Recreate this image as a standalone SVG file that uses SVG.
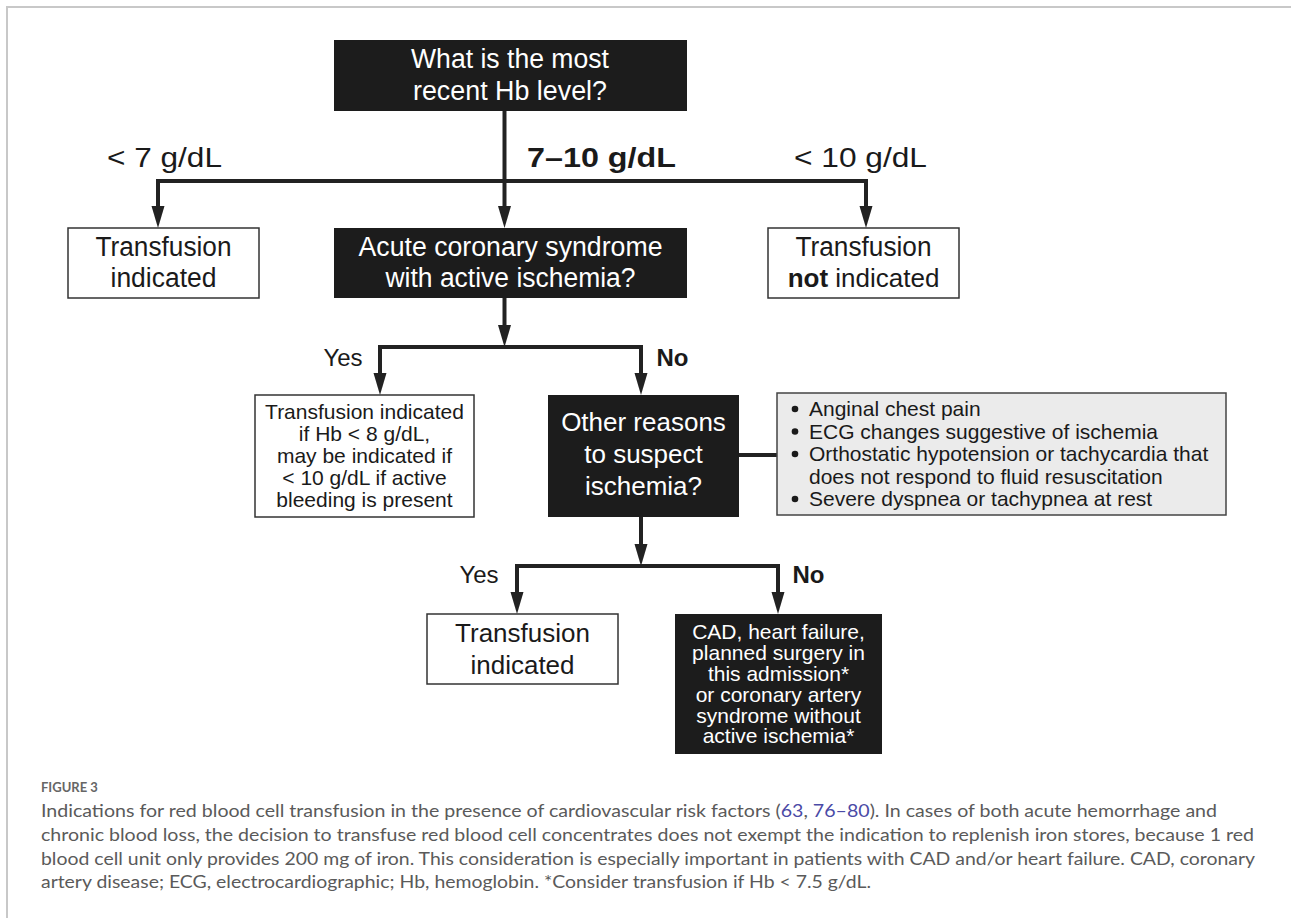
<svg xmlns="http://www.w3.org/2000/svg" width="1291" height="918" viewBox="0 0 1291 918">
<defs>
<marker id="ah" markerUnits="userSpaceOnUse" markerWidth="22" markerHeight="14" refX="0" refY="6.5" orient="auto" overflow="visible">
<path d="M0,0 L22,6.5 L0,13 z" fill="#222"/>
</marker>
<style>
.t{font-family:"Liberation Sans",Arial,Helvetica,sans-serif;fill:#1a1a1a;text-anchor:middle}
.w{fill:#fff}
.bb{fill:#1c1c1c}
.bw{fill:#fff;stroke:#333;stroke-width:1.5}
.bg{fill:#ebebeb;stroke:#444;stroke-width:1.5}
.c{stroke:#222;stroke-width:4;fill:none}
.s27{font-size:27px}
.s26{font-size:26px}
.s24{font-size:24px}
.s21{font-size:21px}
.b{font-weight:bold}
.cap{font-family:Lato,"Open Sans",sans-serif;font-size:16.5px;font-weight:400;fill:#5a5a5a}
.lnk{fill:#4a4aa6}
</style>
</defs>
<rect width="1291" height="918" fill="#fff"/>
<path d="M7 918 V7 H1291" fill="none" stroke="#c8c8c8" stroke-width="2"/>

<g id="connectors">
<path class="c" d="M504.5 111 V181"/>
<path class="c" d="M158 181 H866"/>
<path class="c" d="M158 179 V206" marker-end="url(#ah)"/>
<path class="c" d="M504.5 181 V206" marker-end="url(#ah)"/>
<path class="c" d="M866 179 V206" marker-end="url(#ah)"/>
<path class="c" d="M504.5 298 V325" marker-end="url(#ah)"/>
<path class="c" d="M380 347 H641"/>
<path class="c" d="M380 345 V373" marker-end="url(#ah)"/>
<path class="c" d="M641 345 V373" marker-end="url(#ah)"/>
<path class="c" d="M739 455 H777"/>
<path class="c" d="M641 517 V544" marker-end="url(#ah)"/>
<path class="c" d="M517 566 H778"/>
<path class="c" d="M517 564 V592" marker-end="url(#ah)"/>
<path class="c" d="M778 564 V592" marker-end="url(#ah)"/>
</g>

<g id="edge-labels">
<text class="t s27" x="164.5" y="167" textLength="115" lengthAdjust="spacingAndGlyphs">&lt; 7 g/dL</text>
<text class="t s27 b" x="601.5" y="167" textLength="149" lengthAdjust="spacingAndGlyphs">7–10 g/dL</text>
<text class="t s27" x="860.5" y="167" textLength="133" lengthAdjust="spacingAndGlyphs">&lt; 10 g/dL</text>
<text class="t s24" x="343" y="366">Yes</text>
<text class="t s24 b" x="672.5" y="366">No</text>
<text class="t s24" x="479" y="583">Yes</text>
<text class="t s24 b" x="808.5" y="583">No</text>
</g>

<g id="n-hb">
<rect class="bb" x="334" y="40" width="353" height="71"/>
<text class="t s27 w" x="510" y="67.5" textLength="198" lengthAdjust="spacingAndGlyphs">What is the most</text>
<text class="t s27 w" x="510" y="99.5" textLength="194" lengthAdjust="spacingAndGlyphs">recent Hb level?</text>
</g>

<g id="n-transfusion-1">
<rect class="bw" x="68" y="228" width="191" height="70"/>
<text class="t s27" x="163.5" y="256" textLength="136" lengthAdjust="spacingAndGlyphs">Transfusion</text>
<text class="t s27" x="163.5" y="287" textLength="106" lengthAdjust="spacingAndGlyphs">indicated</text>
</g>

<g id="n-acs">
<rect class="bb" x="334" y="228" width="353" height="70"/>
<text class="t s27 w" x="510.5" y="256" textLength="304" lengthAdjust="spacingAndGlyphs">Acute coronary syndrome</text>
<text class="t s27 w" x="510.5" y="287" textLength="250" lengthAdjust="spacingAndGlyphs">with active ischemia?</text>
</g>

<g id="n-not-indicated">
<rect class="bw" x="768" y="228" width="191" height="70"/>
<text class="t s27" x="863.5" y="256" textLength="136" lengthAdjust="spacingAndGlyphs">Transfusion</text>
<text class="t s26" x="863.5" y="287"><tspan class="b">not</tspan> indicated</text>
</g>

<g id="n-hb8">
<rect class="bw" x="255" y="395" width="219" height="122"/>
<text class="t s21" x="364.5" y="419">Transfusion indicated</text>
<text class="t s21" x="364.5" y="441">if Hb &lt; 8 g/dL,</text>
<text class="t s21" x="364.5" y="463">may be indicated if</text>
<text class="t s21" x="364.5" y="485">&lt; 10 g/dL if active</text>
<text class="t s21" x="364.5" y="507">bleeding is present</text>
</g>

<g id="n-other">
<rect class="bb" x="548" y="395" width="191" height="122"/>
<text class="t s26 w" x="643.5" y="431">Other reasons</text>
<text class="t s26 w" x="643.5" y="463">to suspect</text>
<text class="t s26 w" x="643.5" y="495">ischemia?</text>
</g>

<g id="n-signs">
<rect class="bg" x="777" y="393" width="449" height="122"/>
<g fill="#1a1a1a">
<circle cx="795" cy="409" r="3.3"/>
<circle cx="795" cy="431.5" r="3.3"/>
<circle cx="795" cy="454" r="3.3"/>
<circle cx="795" cy="499" r="3.3"/>
</g>
<g class="t s21" style="text-anchor:start">
<text x="809" y="416">Anginal chest pain</text>
<text x="809" y="438.5">ECG changes suggestive of ischemia</text>
<text x="809" y="461">Orthostatic hypotension or tachycardia that</text>
<text x="809" y="483.5">does not respond to fluid resuscitation</text>
<text x="809" y="506">Severe dyspnea or tachypnea at rest</text>
</g>
</g>

<g id="n-transfusion-2">
<rect class="bw" x="427" y="614" width="191" height="70"/>
<text class="t s26" x="522.5" y="642">Transfusion</text>
<text class="t s26" x="522.5" y="674">indicated</text>
</g>

<g id="n-cad">
<rect class="bb" x="675" y="614" width="207" height="140"/>
<text class="t s21 w" x="778.5" y="639">CAD, heart failure,</text>
<text class="t s21 w" x="778.5" y="660">planned surgery in</text>
<text class="t s21 w" x="778.5" y="681">this admission*</text>
<text class="t s21 w" x="778.5" y="702">or coronary artery</text>
<text class="t s21 w" x="778.5" y="722.5">syndrome without</text>
<text class="t s21 w" x="778.5" y="743">active ischemia*</text>
</g>

<g id="caption">
<text x="41" y="792" style="font-family:Lato,'Open Sans',sans-serif;font-size:13px;font-weight:bold;fill:#666">FIGURE 3</text>
<text class="cap" x="41" y="817" textLength="1176" lengthAdjust="spacingAndGlyphs">Indications for red blood cell transfusion in the presence of cardiovascular risk factors (<tspan class="lnk">63</tspan>, <tspan class="lnk">76–80</tspan>). In cases of both acute hemorrhage and</text>
<text class="cap" x="41" y="841" textLength="1213" lengthAdjust="spacingAndGlyphs">chronic blood loss, the decision to transfuse red blood cell concentrates does not exempt the indication to replenish iron stores, because 1 red</text>
<text class="cap" x="41" y="865" textLength="1214" lengthAdjust="spacingAndGlyphs">blood cell unit only provides 200 mg of iron. This consideration is especially important in patients with CAD and/or heart failure. CAD, coronary</text>
<text class="cap" x="41" y="888" textLength="830" lengthAdjust="spacingAndGlyphs">artery disease; ECG, electrocardiographic; Hb, hemoglobin. *Consider transfusion if Hb &lt; 7.5 g/dL.</text>
</g>
</svg>
